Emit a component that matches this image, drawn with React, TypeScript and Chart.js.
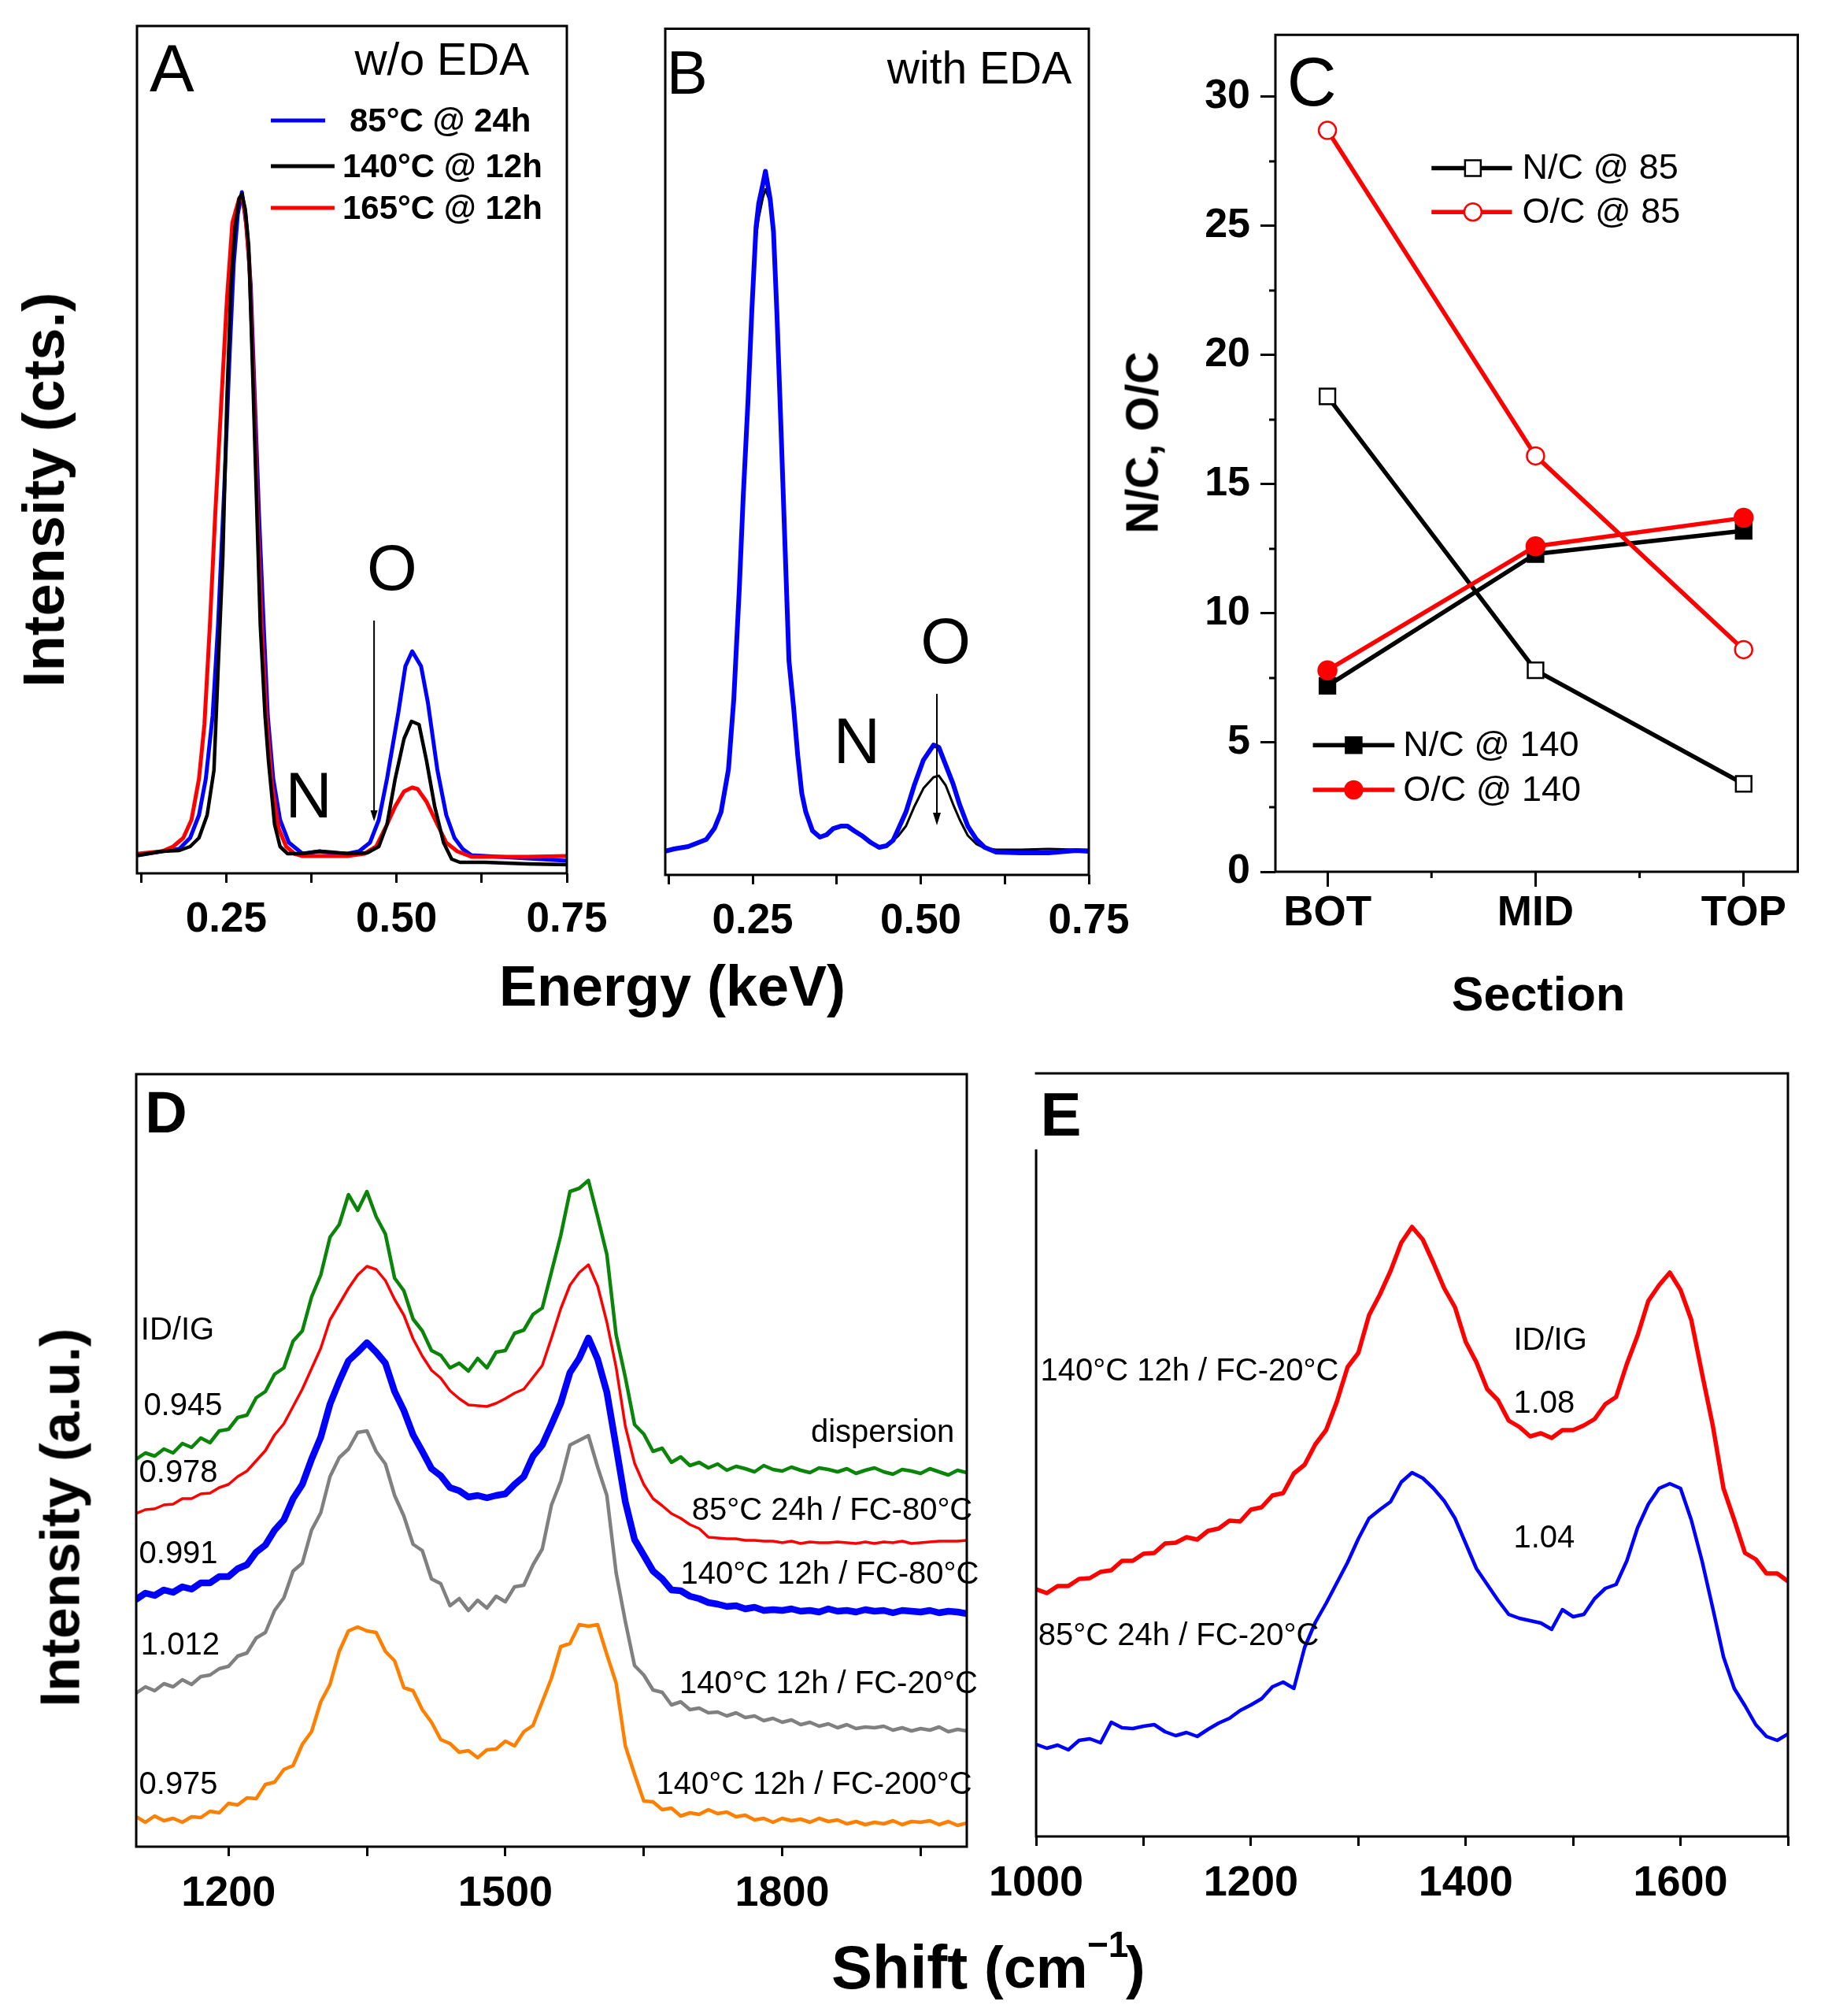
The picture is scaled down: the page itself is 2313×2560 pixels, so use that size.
import React, { useEffect, useRef } from 'react';
import { Chart, registerables } from 'chart.js';

Chart.register(...registerables);

const FONT = "'Liberation Sans', Arial, Helvetica, sans-serif";
Chart.defaults.font.family = FONT;
Chart.defaults.color = '#000';

// ---------------- Panel A (w/o EDA) ----------------
const aSeriesNames = ['85°C @ 24h', '140°C @ 12h', '165°C @ 12h'];
const aEnergy85 = [0.121,0.156,0.181,0.197,0.210,0.220,0.230,0.238,0.247,0.255,0.261,0.267,0.273,0.280,0.286,0.292,0.298,0.305,0.311,0.319,0.329,0.342,0.362,0.387,0.404,0.428,0.445,0.461,0.474,0.486,0.503,0.513,0.523,0.536,0.546,0.560,0.573,0.585,0.597,0.610,0.651,0.692,0.750];
const aCounts85 = [23,28,31,45,74,120,200,315,487,659,774,837,865,820,746,602,458,315,200,120,68,39,25,28,26,25,28,39,68,120,206,263,282,263,217,131,74,45,31,23,21,19,16];
const aEnergy140 = [0.121,0.156,0.181,0.197,0.210,0.222,0.232,0.238,0.245,0.251,0.257,0.263,0.269,0.273,0.278,0.283,0.288,0.294,0.300,0.307,0.312,0.321,0.329,0.340,0.362,0.387,0.404,0.428,0.457,0.474,0.486,0.498,0.511,0.522,0.533,0.544,0.556,0.569,0.581,0.593,0.630,0.692,0.750];
const aCounts140 = [23,28,29,34,45,74,131,258,401,602,746,820,857,863,843,797,659,487,315,200,143,62,34,25,25,28,27,25,26,34,62,120,171,193,189,143,85,39,18,14,14,12,11];
const aEnergy165 = [0.121,0.156,0.172,0.187,0.199,0.210,0.218,0.226,0.234,0.243,0.251,0.259,0.269,0.273,0.278,0.284,0.290,0.296,0.302,0.309,0.317,0.327,0.338,0.350,0.362,0.404,0.428,0.453,0.470,0.486,0.498,0.511,0.523,0.531,0.544,0.560,0.573,0.589,0.610,0.651,0.692,0.750];
const aCounts165 = [25,28,34,45,68,120,189,315,458,602,728,826,857,861,837,774,631,458,315,200,114,57,34,25,22,22,22,25,34,62,85,104,109,107,91,62,39,28,21,21,21,22];

// ---------------- Panel B (with EDA) ----------------
const bEnergy = [0.119,0.133,0.154,0.166,0.181,0.193,0.203,0.214,0.222,0.230,0.236,0.243,0.249,0.255,0.259,0.265,0.269,0.276,0.281,0.286,0.292,0.298,0.304,0.311,0.317,0.323,0.329,0.339,0.350,0.360,0.370,0.381,0.391,0.401,0.414,0.426,0.438,0.449,0.459,0.467,0.478,0.490,0.504,0.519,0.527,0.537,0.548,0.558,0.570,0.583,0.595,0.612,0.649,0.690,0.731,0.750];
const bCounts85 = [30,33,36,40,45,59,80,134,224,361,481,601,721,823,853,877,894,859,817,715,571,421,272,212,152,104,80,56,48,51,59,62,62,56,49,41,35,37,44,59,80,113,146,165,162,140,116,89,62,45,35,29,28,28,31,30];
const bCounts140 = [30,33,36,40,45,59,80,134,224,361,481,601,715,810,835,860,871,855,815,715,571,421,272,212,152,104,80,56,48,51,59,62,62,56,49,41,35,37,44,50,62,86,110,124,126,114,90,70,50,39,34,32,32,33,32,32];

const energyTicks = [0.125, 0.25, 0.375, 0.5, 0.625, 0.75];
const energyTickLabels = [0.25, 0.5, 0.75];

// ---------------- Panel C ----------------
const cSections = ['BOT', 'MID', 'TOP'];
const cSeriesNames = ['N/C @ 85', 'O/C @ 85', 'N/C @ 140', 'O/C @ 140'];
const cNC85 = [18.4, 7.8, 3.4];
const cOC85 = [28.7, 16.1, 8.6];
const cNC140 = [7.2, 12.3, 13.2];
const cOC140 = [7.8, 12.6, 13.7];
const cYTicks = [0, 5, 10, 15, 20, 25, 30];
const cYMinorTicks = [2.5, 7.5, 12.5, 17.5, 22.5, 27.5];
const cXTicks = [0, 1, 2];
const cXMinorTicks = [0.5, 1.5];

// ---------------- Panel D ----------------
const dSeriesNames = ['dispersion', '85°C 24h / FC-80°C', '140°C 12h / FC-80°C', '140°C 12h / FC-20°C', '140°C 12h / FC-200°C'];
const dRatios = ['0.945', '0.978', '0.991', '1.012', '0.975'];
const dShift = [1100,1110,1120,1130,1140,1150,1160,1170,1180,1190,1200,1210,1220,1230,1240,1250,1260,1270,1280,1290,1300,1310,1320,1330,1340,1350,1360,1370,1380,1390,1400,1410,1420,1430,1440,1450,1460,1470,1480,1490,1500,1510,1520,1530,1540,1550,1560,1570,1580,1590,1600,1610,1620,1630,1640,1650,1660,1670,1680,1690,1700,1710,1720,1730,1740,1750,1760,1770,1780,1790,1800,1810,1820,1830,1840,1850,1860,1870,1880,1890,1900,1910,1920,1930,1940,1950,1960,1970,1980,1990,2000];
const dDispersion = [492,500,496,505,500,512,507,519,513,528, 530,545,548,570,578,600,608,642,655,698, 726,774,790,828,808,832,800,778,722,706, 670,655,630,624,608,614,604,620,608,628, 630,652,656,676,684,730,776,832,836,846, 800,752,650,596,536,524,502,506,488,495, 484,488,481,486,478,483,480,476,484,479, 477,482,478,475,481,479,476,480,474,478, 481,476,473,479,477,474,480,476,472,478, 475];
const dFC80at85 = [423,428,429,434,435,442,442,448,449,456, 460,470,477,490,503,523,537,559,581,607, 633,669,689,709,726,737,733,719,695,675, 645,623,605,595,579,569,561,560,559,563, 569,576,581,596,611,646,683,713,729,739, 712,666,609,534,487,460,442,433,423,417, 409,404,393,392,391,391,389,389,388,388, 386,388,385,387,386,386,387,386,385,387, 385,387,386,388,385,386,387,388,388,388, 389];
const dFC80at140 = [314,322,319,326,323,330,327,335,335,343, 343,353,358,374,383,402,415,442,460,492, 520,562,591,617,628,640,628,614,578,554, 523,502,480,471,456,452,444,446,443,446, 448,460,470,496,510,536,563,602,620,646, 619,577,508,438,390,370,350,340,326,325, 318,315,310,308,305,306,302,304,300,301, 300,302,299,300,298,302,299,300,298,301, 299,300,297,300,299,298,300,297,299,298, 296];
const dFC20at140 = [195,203,198,207,203,212,206,216,218,226, 229,242,246,265,272,300,316,350,360,402, 424,470,494,505,526,528,502,486,446,420, 384,376,340,334,306,315,300,313,303,318, 311,330,332,358,378,434,464,510,516,522, 482,446,348,286,230,218,199,196,180,184, 174,176,170,171,166,170,164,166,160,163, 158,161,155,158,153,156,151,155,150,152, 151,153,148,151,147,150,148,152,146,149, 147];
const dFC200at140 = [38,31,39,33,36,31,38,37,45,43, 55,53,62,61,79,82,98,103,130,146, 184,206,248,274,279,274,272,248,236,202, 198,174,158,136,131,120,122,113,123,124, 134,128,146,154,184,214,254,258,282,280, 282,244,208,128,92,58,57,47,49,39, 43,41,47,42,44,38,40,34,36,31, 36,33,35,31,36,32,34,29,32,28, 31,29,33,28,32,31,33,28,32,27, 30];
const dTicks = [1200, 1350, 1500, 1650, 1800, 1950];
const dTickLabels = [1200, 1500, 1800];

// ---------------- Panel E ----------------
const eSeriesNames = ['140°C 12h / FC-20°C', '85°C 24h / FC-20°C'];
const eRatios = ['1.08', '1.04'];
const eShift = [1000,1010,1020,1030,1040,1050,1060,1070,1080,1090,1100,1110,1120,1130,1140,1150,1160,1170,1180,1190,1200,1210,1220,1230,1240,1250,1260,1270,1280,1290,1300,1310,1320,1330,1340,1350,1360,1370,1380,1390,1400,1410,1420,1430,1440,1450,1460,1470,1480,1490,1500,1510,1520,1530,1540,1550,1560,1570,1580,1590,1600,1610,1620,1630,1640,1650,1660,1670,1680,1690,1700];
const eFC20at140 = [314,309,318,318,327,328,336,338,350,350, 359,360,372,373,380,377,388,391,401,400, 415,418,433,436,461,472,498,516,552,596, 614,662,688,718,754,774,758,728,696,672, 628,602,568,554,528,520,508,512,506,516, 516,522,530,549,558,600,636,680,700,716, 694,656,588,522,442,402,360,352,334,334, 324];
const eFC20at85 = [117,112,116,110,122,124,119,145,138,137, 140,142,133,128,132,127,136,144,150,160, 167,175,190,196,188,240,272,296,322,348, 378,404,415,425,450,462,455,442,426,404, 372,340,320,300,282,277,274,271,263,288, 279,282,302,315,320,350,392,422,442,448, 442,402,350,290,228,188,166,142,127,122, 130];
const eTicks = [1000, 1100, 1200, 1300, 1400, 1500, 1600, 1700];
const eTickLabels = [1000, 1200, 1400, 1600];

// ---------------- helpers ----------------
type Box = { left: number; top: number; width: number; height: number };
type Area = { left: number; top: number; right: number; bottom: number };

const pts = (xs: number[], ys: number[]) => xs.map((x, i) => ({ x, y: ys[i] }));
const fnt = (size: number, bold = false) => `${bold ? 'bold ' : ''}${size}px ${FONT}`;

const framePlugin = {
  id: 'frame',
  afterDraw(chart: any, _args: any, opts: any) {
    if (!opts || !opts.on) return;
    const { left, top, right, bottom } = chart.chartArea;
    const ctx = chart.ctx;
    ctx.save();
    ctx.strokeStyle = '#000';
    ctx.lineWidth = opts.width || 3;
    ctx.lineCap = 'square';
    ctx.beginPath();
    ctx.moveTo(left, top + (opts.leftGap || 0));
    ctx.lineTo(left, bottom);
    ctx.lineTo(right, bottom);
    ctx.lineTo(right, top);
    ctx.lineTo(left, top);
    ctx.stroke();
    const xs = chart.scales.x;
    const ys = chart.scales.y;
    ctx.lineWidth = 3;
    ctx.lineCap = 'butt';
    (opts.minorX || []).forEach((v: number) => {
      const px = xs.getPixelForValue(v);
      ctx.beginPath();
      ctx.moveTo(px, bottom);
      ctx.lineTo(px, bottom + (opts.minorLen || 8));
      ctx.stroke();
    });
    (opts.minorY || []).forEach((v: number) => {
      const py = ys.getPixelForValue(v);
      ctx.beginPath();
      ctx.moveTo(left, py);
      ctx.lineTo(left - (opts.minorLen || 8), py);
      ctx.stroke();
    });
    ctx.restore();
  },
};

const annotPlugin = {
  id: 'annot',
  afterDraw(chart: any, _args: any, opts: any) {
    if (!opts || !opts.items) return;
    const xs = chart.scales.x;
    const ys = chart.scales.y;
    const X = (v: number) => xs.getPixelForValue(v);
    const Y = (v: number) => ys.getPixelForValue(v);
    const ctx = chart.ctx;
    for (const it of opts.items) {
      ctx.save();
      if (it.kind === 'text') {
        ctx.font = fnt(it.size, it.bold);
        ctx.fillStyle = it.color || '#000';
        ctx.textAlign = it.align || 'left';
        ctx.textBaseline = 'middle';
        ctx.fillText(it.text, X(it.x), Y(it.y));
      } else if (it.kind === 'line') {
        ctx.strokeStyle = it.color;
        ctx.lineWidth = it.width;
        ctx.beginPath();
        ctx.moveTo(X(it.x1), Y(it.y));
        ctx.lineTo(X(it.x2), Y(it.y));
        ctx.stroke();
      } else if (it.kind === 'arrow') {
        const px = X(it.x);
        const y1 = Y(it.y1);
        const y2 = Y(it.y2);
        ctx.strokeStyle = '#000';
        ctx.fillStyle = '#000';
        ctx.lineWidth = 2;
        ctx.beginPath();
        ctx.moveTo(px, y1);
        ctx.lineTo(px, y2 - it.head);
        ctx.stroke();
        ctx.beginPath();
        ctx.moveTo(px, y2);
        ctx.lineTo(px - it.headW / 2, y2 - it.head);
        ctx.lineTo(px + it.headW / 2, y2 - it.head);
        ctx.closePath();
        ctx.fill();
      } else if (it.kind === 'marker') {
        const px = X(it.x);
        const py = Y(it.y);
        ctx.lineWidth = 2.5;
        ctx.strokeStyle = it.stroke;
        ctx.fillStyle = it.fill;
        ctx.beginPath();
        if (it.shape === 'rect') ctx.rect(px - it.r, py - it.r, 2 * it.r, 2 * it.r);
        else ctx.arc(px, py, it.r, 0, Math.PI * 2);
        ctx.fill();
        ctx.stroke();
      }
      ctx.restore();
    }
  },
};

Chart.register(framePlugin as any, annotPlugin as any);

function xAxis(o: { min: number; max: number; ticks: number[]; labels: number[]; fmt: (v: number) => string; size: number; tickLength: number; padding: number; height: number }) {
  return {
    type: 'linear',
    position: 'bottom',
    min: o.min,
    max: o.max,
    afterBuildTicks: (s: any) => {
      s.ticks = o.ticks.map((v) => ({ value: v }));
    },
    afterFit: (s: any) => {
      s.height = o.height;
    },
    ticks: {
      autoSkip: false,
      maxRotation: 0,
      minRotation: 0,
      padding: o.padding,
      color: '#000',
      font: { family: FONT, size: o.size, weight: 'bold' },
      callback: (v: any) => (o.labels.includes(v) ? o.fmt(v) : ''),
    },
    grid: { drawOnChartArea: false, drawTicks: true, tickLength: o.tickLength, tickWidth: 3, tickColor: '#000' },
    border: { display: false },
  };
}

function lineDs(data: any[], color: string, width: number, order: number) {
  return {
    data,
    borderColor: color,
    backgroundColor: color,
    borderWidth: width,
    pointRadius: 0,
    tension: 0,
    fill: false,
    order,
    borderJoinStyle: 'round',
    borderCapStyle: 'round',
  };
}

function baseOptions(box: Box, area: Area, yVisible: boolean) {
  return {
    responsive: false,
    maintainAspectRatio: false,
    animation: false,
    devicePixelRatio: 1,
    events: [],
    layout: {
      padding: {
        left: yVisible ? 0 : area.left - box.left,
        top: area.top - box.top,
        right: box.left + box.width - area.right,
        bottom: 0,
      },
    },
  };
}

function PanelChart({ box, area, build }: { box: Box; area: Area; build: (box: Box, area: Area) => any }) {
  const ref = useRef<HTMLCanvasElement>(null);
  useEffect(() => {
    const chart = new Chart(ref.current as HTMLCanvasElement, build(box, area));
    return () => chart.destroy();
  }, []);
  return (
    <canvas
      ref={ref}
      width={box.width}
      height={box.height}
      style={{ position: 'absolute', left: box.left, top: box.top, width: box.width, height: box.height }}
    />
  );
}

// ---------------- chart builders ----------------
function buildA(box: Box, area: Area) {
  return {
    type: 'line',
    data: {
      datasets: [
        lineDs(pts(aEnergy85, aCounts85), '#0000ff', 5, 2),
        lineDs(pts(aEnergy140, aCounts140), '#000000', 4.5, 0),
        lineDs(pts(aEnergy165, aCounts165), '#ff0000', 5, 1),
      ],
    },
    options: {
      ...baseOptions(box, area, false),
      plugins: {
        legend: { display: false },
        tooltip: { enabled: false },
        frame: { on: true, width: 3 },
        annot: {
          items: [
            { kind: 'text', text: 'A', x: 0.1375, y: 1016, size: 85 },
            { kind: 'text', text: 'w/o EDA', x: 0.4385, y: 1030, size: 57 },
            { kind: 'line', x1: 0.3155, x2: 0.3952, y: 956, color: '#0000ff', width: 5 },
            { kind: 'line', x1: 0.3155, x2: 0.409, y: 898, color: '#000000', width: 5 },
            { kind: 'line', x1: 0.3155, x2: 0.409, y: 845, color: '#ff0000', width: 5 },
            { kind: 'text', text: aSeriesNames[0], x: 0.431, y: 954, size: 42, bold: true },
            { kind: 'text', text: aSeriesNames[1], x: 0.4206, y: 896, size: 42, bold: true },
            { kind: 'text', text: aSeriesNames[2], x: 0.4206, y: 843, size: 42, bold: true },
            { kind: 'text', text: 'N', x: 0.371, y: 94, size: 82, align: 'center' },
            { kind: 'text', text: 'O', x: 0.4934, y: 383, size: 82, align: 'center' },
            { kind: 'arrow', x: 0.467, y1: 321, y2: 66, head: 14, headW: 9 },
          ],
        },
      },
      scales: {
        x: xAxis({ min: 0.119, max: 0.75, ticks: energyTicks, labels: energyTickLabels, fmt: (v) => v.toFixed(2), size: 53, tickLength: 12, padding: 16, height: box.top + box.height - area.bottom }),
        y: { type: 'linear', display: false, min: 0, max: 1076 },
      },
    },
  };
}

function buildB(box: Box, area: Area) {
  return {
    type: 'line',
    data: {
      datasets: [
        lineDs(pts(bEnergy, bCounts85), '#0000ff', 6, 0),
        lineDs(pts(bEnergy, bCounts140), '#000000', 3, 1),
      ],
    },
    options: {
      ...baseOptions(box, area, false),
      plugins: {
        legend: { display: false },
        tooltip: { enabled: false },
        frame: { on: true, width: 3 },
        annot: {
          items: [
            { kind: 'text', text: 'B', x: 0.122, y: 1014, size: 78 },
            { kind: 'text', text: 'with EDA', x: 0.45, y: 1021, size: 57 },
            { kind: 'text', text: 'N', x: 0.405, y: 165, size: 82, align: 'center' },
            { kind: 'text', text: 'O', x: 0.537, y: 292, size: 82, align: 'center' },
            { kind: 'arrow', x: 0.524, y1: 230, y2: 63, head: 16, headW: 10 },
          ],
        },
      },
      scales: {
        x: xAxis({ min: 0.12, max: 0.75, ticks: energyTicks, labels: energyTickLabels, fmt: (v) => v.toFixed(2), size: 53, tickLength: 12, padding: 16, height: box.top + box.height - area.bottom }),
        y: { type: 'linear', display: false, min: 0, max: 1075 },
      },
    },
  };
}

function buildC(box: Box, area: Area) {
  const cp = (ys: number[]) => ys.map((y, i) => ({ x: i, y }));
  const ds = (ys: number[], color: string, style: string, r: number, fill: string, order: number) => ({
    data: cp(ys),
    borderColor: color,
    borderWidth: 5.5,
    tension: 0,
    fill: false,
    order,
    pointStyle: style,
    pointRadius: r,
    pointBackgroundColor: fill,
    pointBorderColor: color,
    pointBorderWidth: 2.5,
  });
  return {
    type: 'line',
    data: {
      datasets: [
        ds(cNC85, '#000000', 'rect', 14, '#ffffff', 3),
        ds(cOC85, '#ff0000', 'circle', 11, '#ffffff', 1),
        ds(cNC140, '#000000', 'rect', 14, '#000000', 2),
        ds(cOC140, '#ff0000', 'circle', 11.5, '#ff0000', 0),
      ],
    },
    options: {
      ...baseOptions(box, area, true),
      plugins: {
        legend: { display: false },
        tooltip: { enabled: false },
        frame: { on: true, width: 3, minorX: cXMinorTicks, minorY: cYMinorTicks, minorLen: 8 },
        annot: {
          items: [
            { kind: 'text', text: 'C', x: -0.194, y: 30.38, size: 87 },
            { kind: 'line', x1: 0.5, x2: 0.887, y: 27.24, color: '#000000', width: 5.5 },
            { kind: 'marker', x: 0.699, y: 27.24, shape: 'rect', r: 10, fill: '#ffffff', stroke: '#000000' },
            { kind: 'text', text: cSeriesNames[0], x: 0.936, y: 27.2, size: 45 },
            { kind: 'line', x1: 0.5, x2: 0.887, y: 25.54, color: '#ff0000', width: 5.5 },
            { kind: 'marker', x: 0.699, y: 25.54, shape: 'circle', r: 11, fill: '#ffffff', stroke: '#ff0000' },
            { kind: 'text', text: cSeriesNames[1], x: 0.936, y: 25.5, size: 45 },
            { kind: 'line', x1: -0.07, x2: 0.322, y: 4.9, color: '#000000', width: 5.5 },
            { kind: 'marker', x: 0.126, y: 4.9, shape: 'rect', r: 10, fill: '#000000', stroke: '#000000' },
            { kind: 'text', text: cSeriesNames[2], x: 0.364, y: 4.86, size: 45 },
            { kind: 'line', x1: -0.07, x2: 0.322, y: 3.17, color: '#ff0000', width: 5.5 },
            { kind: 'marker', x: 0.126, y: 3.17, shape: 'circle', r: 11, fill: '#ff0000', stroke: '#ff0000' },
            { kind: 'text', text: cSeriesNames[3], x: 0.364, y: 3.13, size: 45 },
          ],
        },
      },
      scales: {
        x: xAxis({ min: -0.25, max: 2.26, ticks: cXTicks, labels: cXTicks, fmt: (v) => cSections[v], size: 53, tickLength: 19, padding: 3, height: box.top + box.height - area.bottom }),
        y: {
          type: 'linear',
          position: 'left',
          min: 0,
          max: 32.4,
          afterBuildTicks: (s: any) => {
            s.ticks = cYTicks.map((v) => ({ value: v }));
          },
          afterFit: (s: any) => {
            s.width = area.left - box.left;
          },
          ticks: { padding: 13, color: '#000', font: { family: FONT, size: 52, weight: 'bold' }, callback: (v: any) => String(v) },
          grid: { drawOnChartArea: false, drawTicks: true, tickLength: 19, tickWidth: 3, tickColor: '#000' },
          border: { display: false },
        },
      },
    },
  };
}

function buildD(box: Box, area: Area) {
  const ratioX = [1108, 1103, 1103, 1105, 1103];
  const ratioY = [559, 474, 371, 255, 78];
  const nameX = [1831, 1702, 1690, 1688.6, 1663.5];
  const nameY = [525, 426, 345, 206, 78];
  const items: any[] = [
    { kind: 'text', text: 'D', x: 1109.5, y: 927, size: 74, bold: true },
    { kind: 'text', text: 'ID/IG', x: 1105, y: 655, size: 40 },
  ];
  dRatios.forEach((t, i) => items.push({ kind: 'text', text: t, x: ratioX[i], y: ratioY[i], size: 40 }));
  dSeriesNames.forEach((t, i) => items.push({ kind: 'text', text: t, x: nameX[i], y: nameY[i], size: 40 }));
  return {
    type: 'line',
    data: {
      datasets: [
        lineDs(pts(dShift, dDispersion), '#0a850a', 4.5, 4),
        lineDs(pts(dShift, dFC80at85), '#ff0000', 3.5, 3),
        lineDs(pts(dShift, dFC80at140), '#0000ff', 8.5, 2),
        lineDs(pts(dShift, dFC20at140), '#808080', 4.5, 1),
        lineDs(pts(dShift, dFC200at140), '#ff8000', 4.5, 0),
      ],
    },
    options: {
      ...baseOptions(box, area, false),
      plugins: {
        legend: { display: false },
        tooltip: { enabled: false },
        frame: { on: true, width: 3 },
        annot: { items },
      },
      scales: {
        x: xAxis({ min: 1100, max: 2000, ticks: dTicks, labels: dTickLabels, fmt: (v) => String(v), size: 54, tickLength: 12, padding: 16, height: box.top + box.height - area.bottom }),
        y: { type: 'linear', display: false, min: 0, max: 981 },
      },
    },
  };
}

function buildE(box: Box, area: Area) {
  return {
    type: 'line',
    data: {
      datasets: [
        lineDs(pts(eShift, eFC20at140), '#ff0000', 5.5, 1),
        lineDs(pts(eShift, eFC20at85), '#0000ff', 4.5, 0),
      ],
    },
    options: {
      ...baseOptions(box, area, false),
      plugins: {
        legend: { display: false },
        tooltip: { enabled: false },
        frame: { on: true, width: 3, leftGap: 98 },
        annot: {
          items: [
            { kind: 'text', text: 'E', x: 1004, y: 912, size: 78, bold: true },
            { kind: 'text', text: eSeriesNames[0], x: 1004, y: 590, size: 40 },
            { kind: 'text', text: eSeriesNames[1], x: 1002, y: 254, size: 40 },
            { kind: 'text', text: 'ID/IG', x: 1444.5, y: 629, size: 40 },
            { kind: 'text', text: eRatios[0], x: 1444.5, y: 549, size: 40 },
            { kind: 'text', text: eRatios[1], x: 1444.5, y: 378, size: 40 },
          ],
        },
      },
      scales: {
        x: xAxis({ min: 1000, max: 1700, ticks: eTicks, labels: eTickLabels, fmt: (v) => String(v), size: 54, tickLength: 12, padding: 16, height: box.top + box.height - area.bottom }),
        y: { type: 'linear', display: false, min: 0, max: 969 },
      },
    },
  };
}

// ---------------- HTML text ----------------
function CenterText({ x, y, size, bold, rotate, children }: { x: number; y: number; size: number; bold?: boolean; rotate?: boolean; children: React.ReactNode }) {
  return (
    <div
      style={{
        position: 'absolute',
        left: x,
        top: y,
        transform: `translate(-50%, -50%)${rotate ? ' rotate(-90deg)' : ''}`,
        fontFamily: FONT,
        fontSize: size,
        fontWeight: bold ? 700 : 400,
        lineHeight: 1,
        whiteSpace: 'nowrap',
        color: '#000',
      }}
    >
      {children}
    </div>
  );
}

function BaseText({ left, baseline, size, bold, children }: { left: number; baseline: number; size: number; bold?: boolean; children: React.ReactNode }) {
  return (
    <div
      style={{
        position: 'absolute',
        left,
        top: baseline - 0.8465 * size,
        fontFamily: FONT,
        fontSize: size,
        fontWeight: bold ? 700 : 400,
        lineHeight: 1,
        whiteSpace: 'nowrap',
        color: '#000',
      }}
    >
      {children}
    </div>
  );
}

export default function App() {
  return (
    <div style={{ position: 'absolute', left: 0, top: 0, width: 2313, height: 2560, background: '#fff', overflow: 'hidden' }}>
      <PanelChart box={{ left: 0, top: 0, width: 800, height: 1209 }} area={{ left: 174, top: 33, right: 720, bottom: 1109 }} build={buildA} />
      <PanelChart box={{ left: 760, top: 0, width: 703, height: 1211 }} area={{ left: 845, top: 36.5, right: 1383, bottom: 1111 }} build={buildB} />
      <PanelChart box={{ left: 1500, top: 0, width: 800, height: 1207 }} area={{ left: 1620, top: 35, right: 2291, bottom: 1107 }} build={buildC} />
      <PanelChart box={{ left: 0, top: 1300, width: 1308, height: 1145 }} area={{ left: 173, top: 1364, right: 1228, bottom: 2345 }} build={buildD} />
      <PanelChart box={{ left: 1240, top: 1300, width: 1060, height: 1132 }} area={{ left: 1303, top: 1363, right: 2271, bottom: 2332 }} build={buildE} />

      <CenterText x={56} y={622} size={74} bold rotate>Intensity (cts.)</CenterText>
      <CenterText x={854} y={1252} size={72} bold>Energy (keV)</CenterText>
      <CenterText x={1451} y={562} size={57} bold rotate>N/C, O/C</CenterText>
      <CenterText x={1954} y={1262} size={61} bold>Section</CenterText>
      <CenterText x={76} y={1927} size={71} bold rotate>Intensity (a.u.)</CenterText>
      <BaseText left={1056} baseline={2525} size={78} bold>Shift</BaseText>
      <BaseText left={1250} baseline={2525} size={74} bold>(cm</BaseText>
      <BaseText left={1381} baseline={2485} size={46} bold>−1</BaseText>
      <BaseText left={1430} baseline={2525} size={74} bold>)</BaseText>
    </div>
  );
}
